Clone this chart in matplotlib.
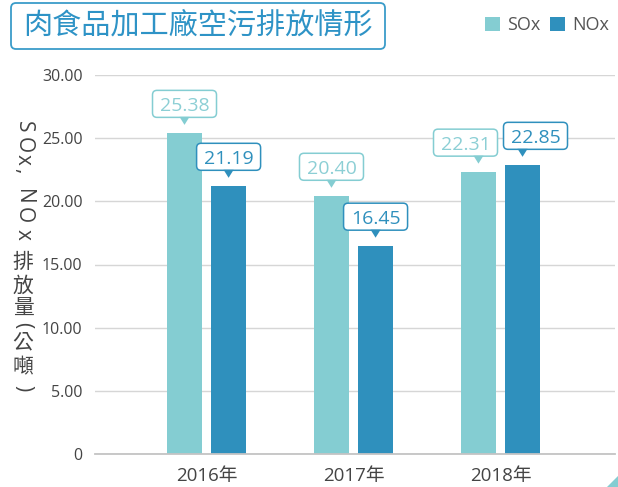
import numpy as np
import matplotlib.pyplot as plt
import matplotlib.transforms as mtransforms
from matplotlib.patches import FancyBboxPatch, Polygon

plt.rcParams['font.family'] = ['Open Sans', 'Noto Sans CJK TC', 'DejaVu Sans']

years = ['2016年', '2017年', '2018年']
sox = [25.38, 20.40, 22.31]
nox = [21.19, 16.45, 22.85]
yticks = [0, 5, 10, 15, 20, 25, 30]

c_sox = '#84cdd2'
c_nox = '#2f90bd'
c_sox_txt = '#8ccfd5'
c_text = '#444444'

fig = plt.figure(figsize=(6.18, 4.87), dpi=100)
ax = fig.add_axes([95 / 618, 1 - 454 / 487, 520 / 618, 379 / 487])

x = np.arange(len(years))
w = 0.238
off = 0.15
ax.bar(x - off, sox, w, color=c_sox, label='SOx', zorder=2)
ax.bar(x + off, nox, w, color=c_nox, label='NOx', zorder=2)

ax.set_xlim(-0.759, 2.779)
ax.set_ylim(0, 30)
ax.set_yticks(yticks)
ax.set_yticklabels(['0' if t == 0 else '%.2f' % t for t in yticks])
ax.set_xticks(x)
ax.set_xticklabels(years)
ax.tick_params(axis='y', length=0, pad=9, labelsize=11.5, labelcolor=c_text)
ax.tick_params(axis='x', length=0, pad=9, labelsize=13.5, labelcolor=c_text)
for s in ['top', 'right', 'left']:
    ax.spines[s].set_visible(False)
ax.spines['bottom'].set_color('#c4c4c4')
ax.spines['bottom'].set_linewidth(1.3)
ax.spines['bottom'].set_zorder(3)
ax.yaxis.grid(True, color='#d6d6d6', linewidth=1.0, zorder=0)
ax.set_axisbelow(True)

BW, BH = 0.64, 0.27  # callout box size, inches


# value callouts: rounded box with a small pointer above each bar
def callout(xpos, val, edge, txt, dx=0.0):
    trans = fig.dpi_scale_trans + mtransforms.ScaledTranslation(xpos, val, ax.transData)
    y0 = 0.16
    ax.add_patch(FancyBboxPatch((dx - BW / 2, y0), BW, BH,
                                boxstyle='round,pad=0,rounding_size=0.045',
                                fc='white', ec=edge, lw=1.1, transform=trans,
                                clip_on=False, zorder=4))
    ax.add_patch(Polygon([(-0.05, y0 + 0.005), (0.05, y0 + 0.005), (0, 0.085)],
                         closed=True, fc=edge, ec='none', transform=trans,
                         clip_on=False, zorder=5))
    ax.annotate('%.2f' % val, xy=(xpos, val), xytext=(dx * 100, 16 + 13.5),
                textcoords='offset pixels', ha='center', va='center_baseline',
                fontsize=14, color=txt, zorder=6)


# pixels per data unit, to push apart callouts that would collide
px_y = ax.transData.transform((0, 1))[1] - ax.transData.transform((0, 0))[1]
px_x = ax.transData.transform((1, 0))[0] - ax.transData.transform((0, 0))[0]
for i in range(len(years)):
    shift = 0.0
    if abs(sox[i] - nox[i]) * px_y < BH * 100:
        shift = max(0.0, (BW + 0.06 - 2 * off * px_x / 100) / 2)
    callout(x[i] - off, sox[i], c_sox, c_sox_txt, -shift)
    callout(x[i] + off, nox[i], c_nox, c_nox, shift)

# vertical axis title, written top to bottom
ylab = [('S', True, 127), ('O', True, 145), ('x', True, 159), (',', True, 171),
        ('N', True, 197), ('O', True, 215), ('x', True, 234),
        ('排', False, 263), ('放', False, 286), ('量', False, 309),
        ('(', True, 325), ('公', False, 343), ('噸', False, 368), (')', True, 388)]
for ch, rot, ypx in ylab:
    fig.text(23 / 618, 1 - ypx / 487, ch, rotation=-90 if rot else 0,
             ha='center', va='center', fontsize=15, color=c_text)

# title box
fig.patches.append(FancyBboxPatch((0.11, 4.38), 3.74, 0.46,
                                  boxstyle='round,pad=0,rounding_size=0.05',
                                  fc='white', ec='#3a9cc9', lw=1.3,
                                  transform=fig.dpi_scale_trans, figure=fig))
fig.text(198 / 618, 1 - 26 / 487, '肉食品加工廠空污排放情形', ha='center', va='center',
         fontsize=21, color='#2e93c6')

fig.legend(loc='center right', bbox_to_anchor=(1.0, 1 - 25 / 487), ncol=2,
           frameon=False, fontsize=13, handlelength=0.85, handleheight=0.85,
           handletextpad=0.4, columnspacing=0.5, labelcolor='#555555',
           borderaxespad=0.1)

# corner accent
fig.patches.append(Polygon([(6.18, 0.0), (6.18, 0.11), (6.07, 0.0)], closed=True,
                           fc=c_sox, ec='none', transform=fig.dpi_scale_trans,
                           figure=fig))

fig.savefig('out.png', dpi=100)
